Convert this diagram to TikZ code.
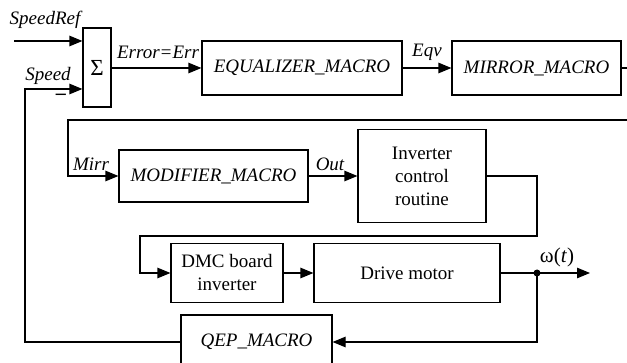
\documentclass[tikz,border=0pt]{standalone}
\usepackage{fontspec}
\setmainfont{Liberation Serif}
\usepackage{tikz}
\usetikzlibrary{arrows.meta}
\newcommand{\bigtxt}{\fontsize{19}{23}\selectfont}
\tikzstyle{block}=[draw, line width=1.2pt, inner sep=0pt, align=center, font=\bigtxt]
\tikzstyle{macro}=[block, font=\bigtxt\itshape]
\tikzstyle{lbl}=[inner sep=0pt, font=\bigtxt\itshape]
\tikzstyle{sig}=[line width=1.2pt, -{Triangle[length=13pt, width=10.5pt]}]

\begin{document}
\begin{tikzpicture}[x=1pt, y=-1pt]
\useasboundingbox (0,0) rectangle (627,363);
% blocks
\node[block, minimum width=28pt, minimum height=79pt, font=\fontsize{23}{25}\selectfont] (sum) at (97,67.5) {Σ};
\node[macro, minimum width=200pt, minimum height=54pt] (equ) at (302,68) {EQUALIZER\_MACRO};
\node[macro, minimum width=169pt, minimum height=54pt] (mir) at (536.5,68) {MIRROR\_MACRO};
\node[macro, minimum width=189pt, minimum height=52pt] (mod) at (213.5,176) {MODIFIER\_MACRO};
\node[block, minimum width=128pt, minimum height=93pt] (inv) at (422,176) {Inverter\\control\\routine};
\node[block, minimum width=112pt, minimum height=59pt] (dmc) at (227,273) {DMC board\\inverter};
\node[block, minimum width=186pt, minimum height=59pt] (mot) at (407,273) {Drive motor};
\node[macro, minimum width=151pt, minimum height=54pt] (qep) at (256.5,342) {QEP\_MACRO};

% turning points
\coordinate (ref) at (14,41);
\coordinate (fb) at (25,89);
\coordinate (turna) at (68,120);
\coordinate (turnb) at (537,236);
\coordinate (turnc) at (140,236);
\coordinate (tap) at (537,273);
\coordinate (out) at (590,273);

% connectors
\draw[sig] (ref) -- (sum.west |- ref);
\draw[sig] (qep.west) -| (fb) -- (sum.west |- fb);
\draw[sig] (sum.east |- equ.west) -- (equ.west);
\draw[sig] (equ.east) -- (mir.west);
\draw[sig] (mir.east) -- ++(14,0) |- (turna) |- (mod.west);
\draw[sig] (mod.east) -- (inv.west |- mod.east);
\draw[sig] (inv.east) -| (turnb) -- (turnc) |- (dmc.west);
\draw[sig] (dmc.east) -- (mot.west);
\draw[sig] (mot.east) -- (out);
\draw[sig] (tap) |- (qep.east);
\fill (tap) circle (3.5pt);

% labels
\node[lbl] (lref) at (45,20) {SpeedRef};
\node[lbl] (lspd) at (48,76) {Speed};
\node[inner sep=0pt, font=\fontsize{20}{20}\selectfont\bfseries] (lneg) at (61,97) {–};
\node[lbl] (lerr) at (158,52) {Error=Err};
\node[lbl] (leqv) at (427,52) {Eqv};
\node[lbl] (lmir) at (91,164) {Mirr};
\node[lbl] (lout) at (330,164) {Out};
\node[inner sep=0pt, font=\fontsize{21}{23}\selectfont] (lome) at (557,257) {ω(\textit{t})};
\end{tikzpicture}
\end{document}
